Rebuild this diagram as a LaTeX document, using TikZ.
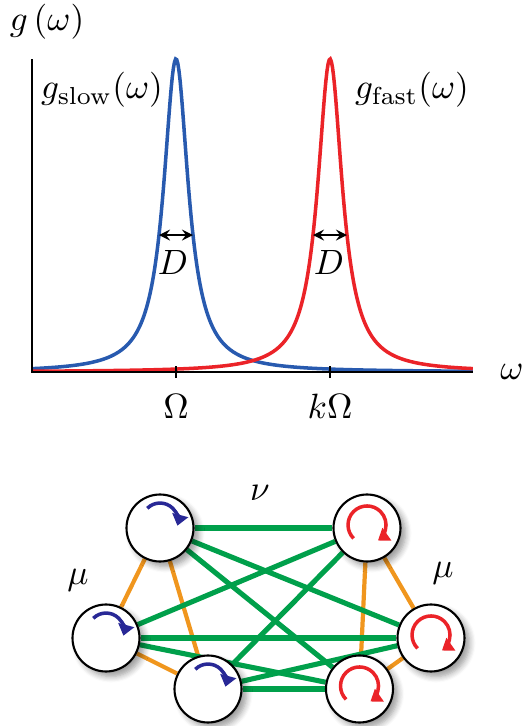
\documentclass[tikz,border=0pt]{standalone}
\usetikzlibrary{arrows.meta,shadows.blur,backgrounds}
\definecolor{slowblue}{RGB}{40,90,175}
\definecolor{fastred}{RGB}{235,35,40}
\definecolor{linkgreen}{RGB}{0,160,75}
\definecolor{linkorange}{RGB}{240,150,30}
\definecolor{spinblue}{RGB}{40,40,150}
\begin{document}
\begin{tikzpicture}[
  every node/.style={font=\fontsize{10.4}{12.5}\selectfont},
  osc/.style={circle, draw, line width=0.6pt, fill=white, minimum size=0.67cm, inner sep=0pt,
    blur shadow={shadow xshift=0.05cm, shadow yshift=-0.05cm, shadow blur steps=6, shadow opacity=40}},
  intra/.style={linkorange, line width=1.2pt},
  inter/.style={linkgreen, line width=1.45pt},
  slowspin/.style={spinblue, line width=1pt, -{Triangle[length=0.11cm,width=0.16cm]}},
  fastspin/.style={fastred, line width=1pt, -{Triangle[length=0.11cm,width=0.15cm]}}]
\useasboundingbox (0,0) rectangle (5.21,7.26);
% frequency distributions
\draw[slowblue, line width=1pt] plot[domain=0.32:4.73, samples=400] (\x, {3.54+3.13*0.0225/((\x-1.76)^2+0.0225)});
\draw[fastred, line width=1pt] plot[domain=0.32:4.73, samples=400] (\x, {3.54+3.13*0.0225/((\x-3.30)^2+0.0225)});
\draw (0.32,6.67) -- (0.32,3.54) -- (4.73,3.54);
\draw[line width=0.8pt] (1.76,3.48) -- (1.76,3.60);
\draw[line width=0.8pt] (3.30,3.48) -- (3.30,3.60);
\node (gw) at (0.47,7.04) {$g\left(\omega\right)$};
\node (w) [anchor=west] at (4.88,3.54) {$\omega$};
\node (om) at (1.76,3.20) {$\Omega$};
\node (kom) at (3.30,3.20) {$k\Omega$};
\node (gslow) at (1.02,6.36) {$g_{\mathrm{slow}}(\omega)$};
\node (gfast) at (4.12,6.36) {$g_{\mathrm{fast}}(\omega)$};
\draw[<->, >=stealth] (1.59,4.91) -- (1.93,4.91);
\draw[<->, >=stealth] (3.13,4.91) -- (3.47,4.91);
\node (ds) at (1.73,4.64) {$D$};
\node (df) at (3.29,4.64) {$D$};
% oscillator network
\node[osc] (s1) at (1.60,1.98) {};
\node[osc] (s2) at (1.06,0.88) {};
\node[osc] (s3) at (2.08,0.37) {};
\node[osc] (f1) at (3.67,1.98) {};
\node[osc] (f2) at (4.31,0.88) {};
\node[osc] (f3) at (3.595,0.37) {};
\begin{scope}[on background layer]
\foreach \a/\b in {s1/s2,s1/s3,s2/s3,f1/f2,f1/f3,f2/f3}
  \draw[intra] (\a) -- (\b);
\foreach \a in {s1,s2,s3}
  \foreach \b in {f1,f2,f3}
    \draw[inter] (\a) -- (\b);
\end{scope}
\foreach \n in {s1,s2,s3}
  \draw[slowspin] ([shift={(-0.127,0.197)}]\n.center) arc[start angle=135, end angle=-15, radius=0.18];
\foreach \n in {f1,f2,f3}
  \draw[fastspin] ([shift={(-0.134,-0.104)}]\n.center) arc[start angle=225, end angle=-55, radius=0.19];
\node (nu) at (2.60,2.33) {$\nu$};
\node (mus) at (0.78,1.46) {$\mu$};
\node (muf) at (4.43,1.53) {$\mu$};
\end{tikzpicture}
\end{document}
